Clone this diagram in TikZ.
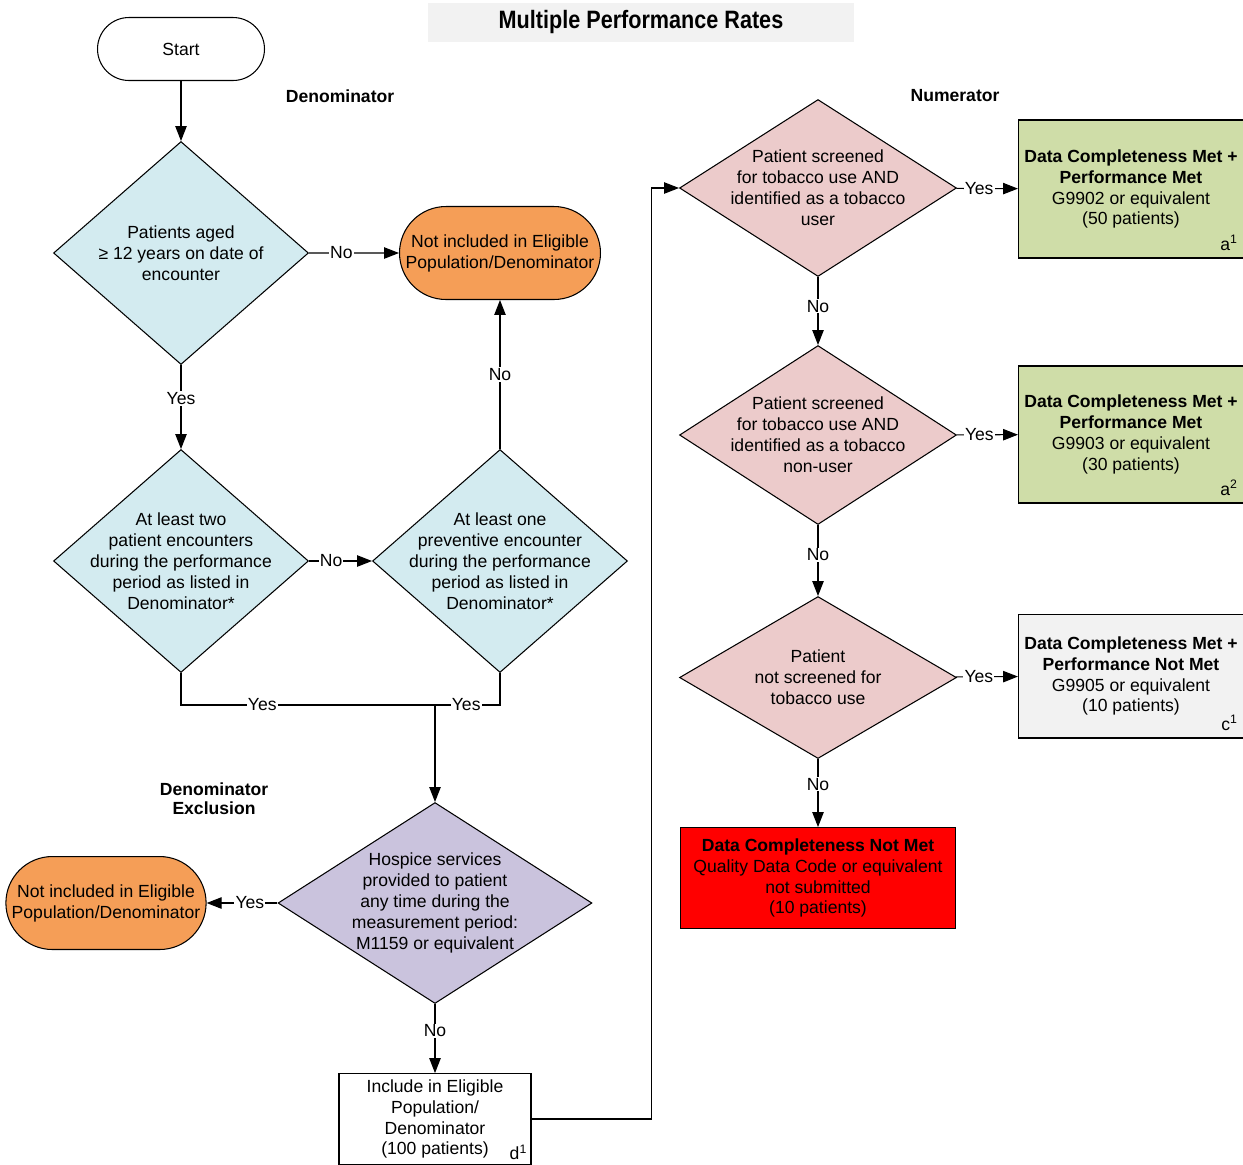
\documentclass[tikz,border=0pt]{standalone}
\usepackage{fontspec}
\setmainfont{Liberation Sans}
\newfontfamily\titlefont[FakeStretch=0.86]{Liberation Sans}
\usepackage{tikz}
\usetikzlibrary{arrows.meta,positioning,shapes.geometric}
\definecolor{DenBlue}{HTML}{D3EBF0}
\definecolor{OutOrange}{HTML}{F59E57}
\definecolor{ExclPurple}{HTML}{CAC3DD}
\definecolor{NumPink}{HTML}{ECCBCB}
\definecolor{MetGreen}{HTML}{CFDDA8}
\definecolor{LightGray}{HTML}{F2F2F2}

\begin{document}
\begin{tikzpicture}[
  x=0.02cm, y=-0.02cm,
  font=\fontsize{10}{11.9}\selectfont,
  line width=0.6pt,
  decision/.style={draw,shape=diamond,aspect=1,align=center,inner xsep=-1cm,inner ysep=-0.5cm},
  denq/.style={decision,fill=DenBlue,minimum width=5.1cm,minimum height=4.46cm},
  numq/.style={decision,fill=NumPink,minimum width=5.54cm},
  oval/.style={draw,fill=OutOrange,rounded corners=0.93cm,align=center,minimum height=1.86cm},
  resbox/.style={draw,align=center,minimum width=4.48cm},
  head/.style={font=\fontsize{10}{11}\selectfont\bfseries,align=center},
  lbl/.style={fill=white,inner sep=0.6pt},
  arr/.style={-{Triangle[length=8.5pt,width=6.5pt]}}
]
\useasboundingbox (0,0) rectangle (1243,1164);
% title and headings
\node[fill=LightGray,minimum width=8.54cm,minimum height=0.78cm,font=\titlefont\fontsize{14.3}{16}\selectfont\bfseries] (title) at (641,22) {Multiple Performance Rates};
\node[head] (denhead) at (340,96) {Denominator};
\node[head] (numhead) at (955,96) {Numerator};
\node[head] (exclhead) at (214,799) {Denominator\\Exclusion};

% denominator
\node[draw,rounded corners=0.63cm,minimum width=3.34cm,minimum height=1.26cm] (start) at (181,49) {Start};
\node[denq] (age) at (181,253) {Patients aged\\≥ 12 years on date of\\encounter};
\node[denq,below=1.68cm of age] (two) {At least two\\patient encounters\\during the performance\\period as listed in\\Denominator*};
\node[denq,right=1.26cm of two] (one) {At least one\\preventive encounter\\during the performance\\period as listed in\\Denominator*};
\node[oval,minimum width=4.02cm,above=2.98cm of one] (notinc) {Not included in Eligible\\Population/Denominator};
\coordinate (merge) at (435,705);
\node[decision,fill=ExclPurple,minimum width=6.28cm,minimum height=4.02cm] (hospice) at (435,903) {Hospice services\\provided to patient\\any time during the\\measurement period:\\M1159 or equivalent};
\node[oval,minimum width=3.94cm] (notinc2) at (106,903) {Not included in Eligible\\Population/Denominator};
\node[draw,align=center,minimum width=3.84cm,minimum height=1.8cm] (incl) at (435,1119) {Include in Eligible\\Population/\\Denominator\\(100 patients)};
\node[anchor=south east,inner sep=1pt] (d1) at ([xshift=-0.04cm,yshift=0.06cm]incl.south east) {d\textsuperscript{1}};

% numerator
\node[numq,minimum height=3.54cm] (n1) at (818,188) {Patient screened\\for tobacco use AND\\identified as a tobacco\\user};
\node[numq,minimum height=3.58cm,below=1.36cm of n1] (n2) {Patient screened\\for tobacco use AND\\identified as a tobacco\\non-user};
\node[numq,minimum height=3.24cm,below=1.42cm of n2] (n3) {Patient\\not screened for\\tobacco use};
\node[draw,fill=red,align=center,minimum width=5.5cm,minimum height=2.02cm,below=1.36cm of n3] (notmet) {\textbf{Data Completeness Not Met}\\Quality Data Code or equivalent\\not submitted\\(10 patients)};
\node[resbox,fill=MetGreen,minimum height=2.76cm] (g1) at (1131,189) {\textbf{Data Completeness Met +}\\\textbf{Performance Met}\\G9902 or equivalent\\(50 patients)};
\node[resbox,fill=MetGreen,minimum height=2.74cm] (g2) at (1131,434.5) {\textbf{Data Completeness Met +}\\\textbf{Performance Met}\\G9903 or equivalent\\(30 patients)};
\node[resbox,fill=LightGray,minimum height=2.48cm] (g3) at (1131,676) {\textbf{Data Completeness Met +}\\\textbf{Performance Not Met}\\G9905 or equivalent\\(10 patients)};
\node[anchor=south east,inner sep=1pt] (a1) at ([xshift=-0.08cm,yshift=0.12cm]g1.south east) {a\textsuperscript{1}};
\node[anchor=south east,inner sep=1pt] (a2) at ([xshift=-0.08cm,yshift=0.12cm]g2.south east) {a\textsuperscript{2}};
\node[anchor=south east,inner sep=1pt] (c1) at ([xshift=-0.08cm,yshift=0.12cm]g3.south east) {c\textsuperscript{1}};

% connectors
\draw[arr] (start) -- (age);
\draw[arr] (age) -- node[lbl,pos=0.36]{No} (notinc);
\draw[arr] (age) -- node[lbl,pos=0.4]{Yes} (two);
\draw[arr] (two) -- node[lbl,pos=0.35]{No} (one);
\draw[arr] (one) -- node[lbl,pos=0.5]{No} (notinc);
\draw (two.south) |- node[lbl,pos=0.66]{Yes} (merge);
\draw (one.south) |- node[lbl,pos=0.76]{Yes} (merge);
\draw[arr] (merge) -- (hospice);
\draw[arr] (hospice) -- node[lbl,pos=0.39]{Yes} (notinc2);
\draw[arr] (hospice) -- node[lbl,pos=0.39]{No} (incl);
\draw[arr] (incl.east) -- ++(120,0) |- (n1.west);
\draw[arr] (n1) -- node[lbl,pos=0.37]{Yes} (g1);
\draw[arr] (n2) -- node[lbl,pos=0.37]{Yes} (g2);
\draw[arr] (n3) -- node[lbl,pos=0.37]{Yes} (g3);
\draw[arr] (n1) -- node[lbl,pos=0.43]{No} (n2);
\draw[arr] (n2) -- node[lbl,pos=0.42]{No} (n3);
\draw[arr] (n3) -- node[lbl,pos=0.37]{No} (notmet);
\end{tikzpicture}
\end{document}
